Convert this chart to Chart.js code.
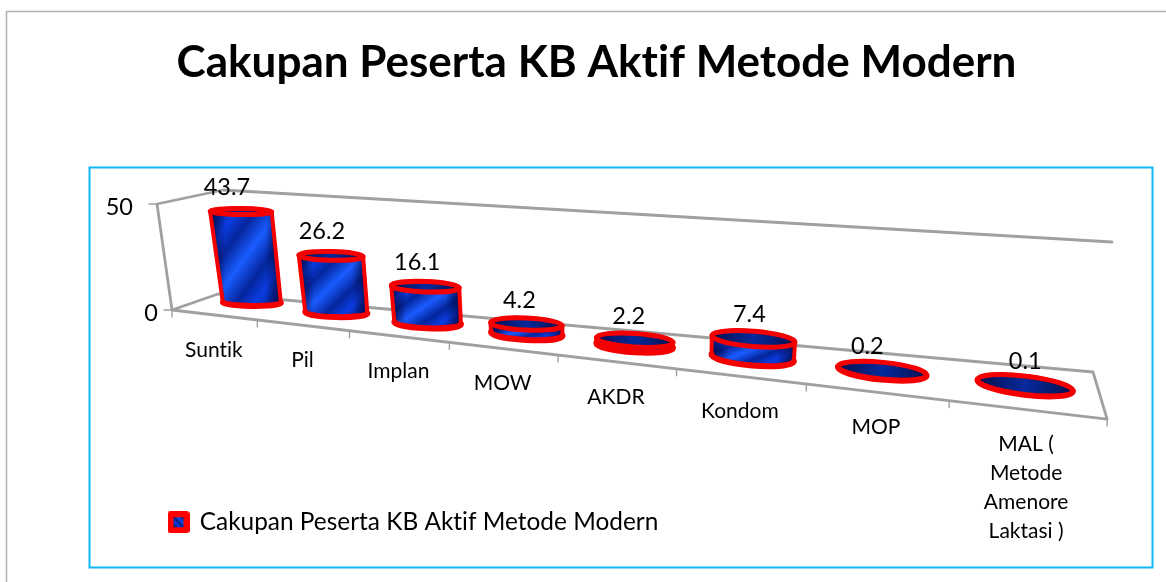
<!DOCTYPE html>
<html><head><meta charset="utf-8">
<style>html,body{margin:0;padding:0;background:#fff}canvas{display:block}</style>
<script src="https://cdn.jsdelivr.net/npm/chart.js@4/dist/chart.umd.js"></script>
</head><body><canvas id="c" width="1166" height="582"></canvas>
<script>
const titleText = 'Cakupan Peserta KB Aktif Metode Modern';
const seriesName = 'Cakupan Peserta KB Aktif Metode Modern';
const categories = ['Suntik','Pil','Implan','MOW','AKDR','Kondom','MOP',['MAL (','Metode','Amenore','Laktasi )']];
const values = [43.7,26.2,16.1,4.2,2.2,7.4,0.2,0.1];
const yTicks = [0,50];
const FONT = 'Lato, Carlito, sans-serif';
const GRID = '#a0a0a0';
const labelNudge = [-14,-9,-8,-7,-6,-4,-15,0];

/* perspective helpers: u is 0..1 along the category axis */
const C = -0.297;
const frontX = u => (606.3*u + 172)/(1 + C*u);
const frontY = X => 310 + 0.1166*(X - 172);
const depthOff = X => [48.3 - 0.048*X, -(12 + 12*Math.pow(Math.max(X-214,0)/812,1.5))];
const unitH = u => 2.05/(1 + C*u);

function swatch(){
  const s = document.createElement('canvas'); s.width = 22; s.height = 22;
  const g = s.getContext('2d');
  g.fillStyle = '#ff0000'; g.beginPath(); g.roundRect(0,0,22,22,3); g.fill();
  const lg = g.createLinearGradient(6,16,16,6);
  lg.addColorStop(0,'#00145e'); lg.addColorStop(.35,'#0d3fe6'); lg.addColorStop(.5,'#001a78');
  lg.addColorStop(.7,'#1450f5'); lg.addColorStop(1,'#00145e');
  g.fillStyle = lg; g.fillRect(6,6,10,10);
  return s;
}

function cylinder(ctx, bx, by, tx, ty, rx, ry, t){
  const h = by - ty, rt = rx + h*0.02;
  const left = Math.min(bx-rx, tx-rt), right = Math.max(bx+rx, tx+rt);
  const top = ty - ry, bot = by + ry;
  ctx.save();
  ctx.beginPath();
  ctx.ellipse(bx,by,rx,ry,t,0,Math.PI);
  ctx.lineTo(tx-rt*Math.cos(t), ty-rt*Math.sin(t));
  ctx.ellipse(tx,ty,rt,ry,t,Math.PI,2*Math.PI);
  ctx.closePath();
  ctx.save();
  ctx.clip();
  ctx.save();
  ctx.translate(left,top); ctx.scale(right-left,bot-top);
  const g = ctx.createLinearGradient(0,0,1,1);
  g.addColorStop(0,'#001a80'); g.addColorStop(.2,'#0a3ce0'); g.addColorStop(.33,'#04259c');
  g.addColorStop(.5,'#1a5cff'); g.addColorStop(.67,'#04259c'); g.addColorStop(.8,'#0a3ce0'); g.addColorStop(1,'#001a80');
  ctx.fillStyle = g; ctx.fillRect(0,0,1,1);
  ctx.restore();
  const e = ctx.createLinearGradient(left,0,right,0);
  e.addColorStop(0,'rgba(0,0,40,.7)'); e.addColorStop(.22,'rgba(0,0,40,0)');
  e.addColorStop(.78,'rgba(0,0,40,0)'); e.addColorStop(1,'rgba(0,0,40,.7)');
  ctx.fillStyle = e; ctx.fillRect(left,top,right-left,bot-top);
  ctx.restore();
  ctx.strokeStyle = '#f40000'; ctx.lineWidth = 4; ctx.lineJoin = 'round';
  ctx.stroke();
  /* heavier rim along the base */
  ctx.lineWidth = 6; ctx.lineCap = 'round'; ctx.beginPath(); ctx.ellipse(bx,by,rx,ry,t,0,Math.PI); ctx.stroke();
  /* top opening */
  ctx.beginPath(); ctx.ellipse(tx,ty,rt,ry,t,0,2*Math.PI);
  const tg = ctx.createLinearGradient(tx-rt,0,tx+rt,0);
  tg.addColorStop(0,'#000f4d'); tg.addColorStop(.5,'#062a9c'); tg.addColorStop(1,'#000f4d');
  ctx.fillStyle = tg; ctx.fill();
  ctx.lineWidth = 5; ctx.stroke();
  ctx.restore();
}

const scene = {
  id:'scene',
  beforeDraw(chart){
    const ctx = chart.ctx;
    if('letterSpacing' in ctx) ctx.letterSpacing = '0.01px';
    ctx.save();
    ctx.fillStyle = '#fff'; ctx.fillRect(0,0,chart.width,chart.height);
    ctx.strokeStyle = '#b0b0b0'; ctx.lineWidth = 1.5;
    ctx.beginPath(); ctx.moveTo(6.5,582); ctx.lineTo(6.5,11.5); ctx.lineTo(1166,11.5); ctx.stroke();
    ctx.strokeStyle = '#10b8f6'; ctx.lineWidth = 2;
    ctx.strokeRect(89.5,167.5,1063,400);
    ctx.restore();
  },
  afterLayout(chart){
    const l = chart.legend;
    l.left = 159.5; l.right = 159.5 + l.width; l.top = 500; l.bottom = l.top + l.height;
  },
  beforeDatasetsDraw(chart){
    const ctx = chart.ctx, xs = chart.scales.x, ys = chart.scales.y, a = chart.chartArea;
    ctx.save();
    ctx.strokeStyle = GRID; ctx.lineWidth = 2.8; ctx.lineCap = 'round'; ctx.lineJoin = 'round';
    ctx.beginPath();
    ctx.moveTo(frontX(0),frontY(frontX(0))); ctx.lineTo(frontX(1),frontY(frontX(1)));
    ctx.lineTo(1093,372); ctx.lineTo(218,294); ctx.closePath();
    ctx.moveTo(172,310); ctx.lineTo(157,204); ctx.lineTo(223,190); ctx.lineTo(1112,242);
    ctx.stroke();
    ctx.lineWidth = 1.4;
    ctx.beginPath();
    for(let k=0;k<=categories.length;k++){
      const X = frontX(k/categories.length), Y = frontY(X);
      ctx.moveTo(X,Y); ctx.lineTo(X,Y+7);
    }
    ctx.stroke();
    ctx.fillStyle = '#000'; ctx.font = '23.5px '+FONT; ctx.textAlign = 'right'; ctx.textBaseline = 'middle';
    ctx.lineWidth = 1.4;
    yTicks.forEach(v=>{
      const f = (a.bottom - ys.getPixelForValue(v))/a.height;
      const x1 = 172 - 15*f, y1 = 310 - 106*f;
      ctx.beginPath(); ctx.moveTo(x1,y1); ctx.lineTo(x1-8,y1); ctx.stroke();
      ctx.fillText(String(v), x1-14-10*f, y1+3);
    });
    /* category labels */
    ctx.textAlign = 'center'; ctx.font = '21px '+FONT;
    xs.getLabels().forEach((lab,i)=>{
      const u = (xs.getPixelForValue(i)-a.left)/a.width;
      const X = frontX(u), Y = frontY(X);
      const lines = Array.isArray(lab)?lab:[lab];
      lines.forEach((s,n)=>ctx.fillText(s,X,Y+35+n*29));
    });
    ctx.restore();
  },
  afterDatasetsDraw(chart){
    const ctx = chart.ctx, xs = chart.scales.x, ys = chart.scales.y, a = chart.chartArea;
    const meta = chart.getDatasetMeta(0);
    const tops = [];
    meta.data.forEach((el,i)=>{
      const u = (el.x - a.left)/a.width;
      const X = frontX(u), Y = frontY(X);
      const [dx,dy] = depthOff(X);
      const bx = X+dx, by = Y+dy;
      const val = (el.base - el.y)/a.height*(ys.max-ys.min);
      const h = val*unitH(u);
      const lean = -0.14 + 0.286*(bx-190)/910;
      const tx = bx + lean*h, ty = by - h;
      const rx = 29 + (bx-252)*0.0246;
      const ry = 3 + 6.2*Math.pow(Math.max(bx-252,0)/773,0.7);
      const tilt = 0.01 + 0.11*(bx-252)/773;
      cylinder(ctx,bx,by,tx,ty,rx,ry,tilt);
      tops.push([tx,ty]);
    });
    ctx.save();
    ctx.fillStyle = '#000'; ctx.font = '23.5px '+FONT; ctx.textAlign='center'; ctx.textBaseline='middle';
    tops.forEach(([tx,ty],i)=>ctx.fillText(values[i].toFixed(1), tx+labelNudge[i], ty-24));
    ctx.restore();
  }
};

new Chart(document.getElementById('c'),{
  type:'bar',
  data:{labels:categories,datasets:[{label:seriesName,data:values,backgroundColor:'rgba(0,0,0,0)',borderWidth:0}]},
  plugins:[scene],
  options:{
    responsive:false,animation:false,
    layout:{padding:{left:27,top:21,right:0,bottom:0}},
    scales:{
      x:{display:false},
      y:{display:false,min:0,max:50}
    },
    plugins:{
      tooltip:{enabled:false},
      title:{display:true,text:titleText,color:'#000',font:{family:FONT,size:44,weight:'bold'},padding:{top:15,bottom:10}},
      legend:{display:true,position:'bottom',align:'start',
        labels:{usePointStyle:true,pointStyle:swatch(),color:'#000',font:{family:FONT,size:24.4},boxWidth:18,boxHeight:21,padding:10}}
    }
  }
});
</script></body></html>
